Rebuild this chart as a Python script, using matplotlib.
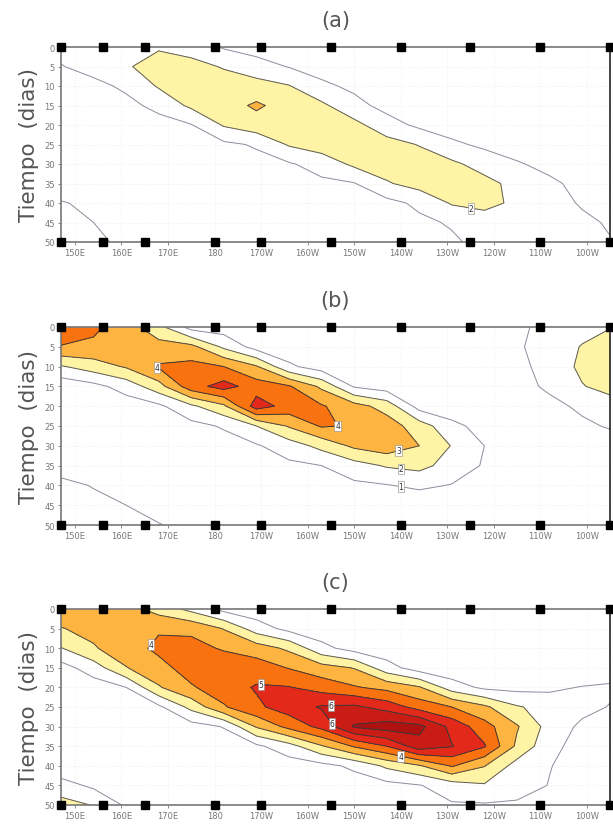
import numpy as np
import matplotlib
matplotlib.use("Agg")
import matplotlib.pyplot as plt

# ---------------- data ----------------
LON = [147, 154, 161, 168, 175, 182, 189, 196, 203, 210, 217, 224, 231, 238, 245, 252, 259, 265]
DAYS = [0, 5, 10, 15, 20, 25, 30, 35, 40, 45, 50]
BUOY_LON = [147, 156, 165, 180, 190, 205, 220, 235, 250, 265]
XTICKS = [150, 160, 170, 180, 190, 200, 210, 220, 230, 240, 250, 260]
XTICK_LABELS = ["150E", "160E", "170E", "180", "170W", "160W", "150W",
                "140W", "130W", "120W", "110W", "100W"]
YTICKS = [0, 5, 10, 15, 20, 25, 30, 35, 40, 45, 50]
PANEL_TITLES = ["(a)", "(b)", "(c)"]

FIELD_A = [
    [1.3, 1.5, 1.8, 1.9, 1.5, 0.9, 0.6, 0.4, 0.3, 0.2, 0.1, 0.1, 0.1, 0.1, 0.1, 0.1, 0.1, 0.1],
    [0.95, 1.4, 1.9, 2.4, 2.4, 1.9, 1.4, 0.95, 0.6, 0.4, 0.3, 0.2, 0.2, 0.2, 0.15, 0.1, 0.1, 0.1],
    [0.4, 0.7, 1.2, 2.1, 2.5, 2.6, 2.4, 2.05, 1.2, 0.8, 0.5, 0.3, 0.2, 0.2, 0.2, 0.15, 0.1, 0.1],
    [0.3, 0.4, 0.7, 1.3, 2.2, 2.6, 3.15, 2.6, 2.2, 1.3, 0.7, 0.4, 0.3, 0.2, 0.2, 0.2, 0.15, 0.1],
    [0.2, 0.3, 0.4, 0.6, 0.95, 2.1, 2.6, 2.6, 2.6, 2.3, 1.4, 0.8, 0.5, 0.3, 0.2, 0.2, 0.2, 0.2],
    [0.2, 0.2, 0.3, 0.4, 0.6, 0.8, 1.1, 2.1, 2.5, 2.6, 2.4, 1.95, 1.2, 0.8, 0.5, 0.3, 0.2, 0.2],
    [0.2, 0.2, 0.2, 0.3, 0.4, 0.5, 0.7, 0.9, 1.4, 2.2, 2.5, 2.5, 2.2, 1.6, 1.1, 0.7, 0.4, 0.3],
    [0.2, 0.2, 0.2, 0.2, 0.3, 0.4, 0.5, 0.6, 0.8, 0.95, 1.9, 2.4, 2.5, 2.3, 1.7, 1.2, 0.7, 0.5],
    [1.1, 0.7, 0.4, 0.3, 0.2, 0.2, 0.3, 0.4, 0.5, 0.6, 0.7, 1.2, 2.1, 2.3, 1.8, 1.4, 0.9, 0.6],
    [1.5, 1.0, 0.6, 0.4, 0.3, 0.2, 0.2, 0.3, 0.4, 0.5, 0.6, 0.8, 1.1, 1.5, 1.6, 1.5, 1.2, 0.9],
    [1.8, 1.2, 0.8, 0.5, 0.3, 0.2, 0.2, 0.2, 0.3, 0.4, 0.5, 0.7, 0.85, 1.3, 1.4, 1.3, 1.2, 1.05],
]

FIELD_B = [
    [4.6, 4.2, 3.5, 2.3, 0.6, 0.5, 0.3, 0.2, 0.1, 0.1, 0.1, 0.1, 0.2, 0.4, 0.8, 1.3, 1.7, 1.95],
    [3.95, 3.8, 3.6, 3.4, 3.3, 1.8, 0.6, 0.3, 0.2, 0.1, 0.1, 0.1, 0.2, 0.4, 0.85, 1.5, 2.05, 2.5],
    [1.9, 2.5, 3.1, 4.1, 4.3, 4.0, 3.1, 1.2, 0.5, 0.3, 0.2, 0.1, 0.2, 0.4, 0.7, 1.4, 2.2, 2.6],
    [0.3, 0.7, 1.4, 2.6, 4.6, 5.4, 4.5, 4.1, 2.8, 0.9, 0.5, 0.3, 0.2, 0.3, 0.6, 1.2, 1.95, 2.3],
    [0.2, 0.3, 0.5, 0.8, 1.8, 2.8, 5.5, 4.6, 4.1, 3.4, 2.6, 0.6, 0.3, 0.2, 0.3, 0.7, 1.2, 1.6],
    [0.2, 0.2, 0.3, 0.4, 0.7, 1.1, 2.0, 3.1, 4.1, 3.9, 3.5, 2.5, 1.3, 0.6, 0.3, 0.5, 0.8, 1.1],
    [0.2, 0.2, 0.2, 0.3, 0.4, 0.6, 0.9, 1.5, 2.3, 3.2, 3.6, 3.0, 1.95, 1.0, 0.5, 0.3, 0.4, 0.5],
    [0.2, 0.2, 0.2, 0.2, 0.3, 0.4, 0.6, 0.8, 1.0, 1.6, 2.1, 2.3, 1.6, 0.9, 0.4, 0.2, 0.2, 0.2],
    [1.5, 0.9, 0.5, 0.3, 0.2, 0.2, 0.3, 0.4, 0.6, 0.8, 0.95, 1.2, 0.95, 0.6, 0.3, 0.2, 0.2, 0.2],
    [1.9, 1.5, 1.0, 0.6, 0.3, 0.2, 0.2, 0.2, 0.3, 0.3, 0.3, 0.3, 0.3, 0.3, 0.2, 0.2, 0.2, 0.2],
    [1.95, 1.7, 1.3, 1.05, 0.7, 0.3, 0.2, 0.2, 0.2, 0.2, 0.2, 0.2, 0.2, 0.2, 0.2, 0.2, 0.2, 0.2],
]

FIELD_C = [
    [3.6, 3.6, 3.4, 2.6, 1.7, 0.7, 0.4, 0.3, 0.2, 0.2, 0.2, 0.2, 0.2, 0.2, 0.2, 0.2, 0.2, 0.2],
    [2.95, 3.3, 3.6, 3.9, 3.8, 2.95, 1.5, 0.7, 0.4, 0.3, 0.2, 0.2, 0.2, 0.2, 0.2, 0.2, 0.2, 0.2],
    [1.95, 2.9, 3.6, 4.2, 4.3, 3.9, 3.5, 2.8, 1.3, 0.6, 0.4, 0.3, 0.2, 0.2, 0.2, 0.2, 0.2, 0.2],
    [0.6, 1.5, 2.95, 3.7, 4.4, 4.6, 4.5, 3.95, 3.4, 2.95, 1.4, 0.5, 0.3, 0.2, 0.2, 0.2, 0.2, 0.2],
    [0.3, 0.5, 1.0, 2.9, 3.9, 4.5, 5.1, 5.05, 4.6, 4.1, 3.7, 3.1, 1.5, 0.8, 0.7, 0.8, 1.05, 1.2],
    [0.2, 0.3, 0.5, 0.8, 2.3, 3.9, 4.8, 5.5, 6.1, 6.2, 5.6, 4.6, 4.0, 3.2, 2.1, 1.6, 1.3, 0.95],
    [0.2, 0.2, 0.3, 0.4, 0.6, 1.05, 3.1, 4.3, 5.3, 7.1, 7.5, 7.3, 5.7, 4.4, 3.1, 1.6, 0.8, 0.5],
    [0.2, 0.2, 0.2, 0.2, 0.3, 0.5, 0.8, 1.6, 2.9, 4.1, 5.0, 6.6, 6.05, 5.1, 2.8, 1.3, 0.6, 0.4],
    [0.3, 0.3, 0.2, 0.2, 0.2, 0.2, 0.3, 0.5, 0.7, 1.2, 2.2, 2.9, 4.1, 3.05, 1.6, 1.05, 0.5, 0.3],
    [1.4, 0.8, 0.4, 0.3, 0.2, 0.2, 0.2, 0.3, 0.4, 0.5, 0.7, 0.95, 1.5, 1.9, 1.6, 0.95, 0.5, 0.3],
    [2.4, 1.95, 0.85, 0.5, 0.3, 0.2, 0.2, 0.2, 0.3, 0.4, 0.5, 0.7, 0.9, 0.9, 0.8, 0.6, 0.4, 0.3],
]

FILL_LEVELS = [2, 3, 4, 5, 6, 7, 20]
FILL_COLORS = ["#fff3a6", "#fdb440", "#f8720f", "#e32a1a", "#c81c14", "#ad1210"]
LINE_LEVELS = [1, 2, 3, 4, 5, 6, 7]
LINE_COLORS = ["#8c8c9c", "#5a5a5a", "#4a4a4a", "#3a3a3a", "#3a3a3a", "#3a3a3a", "#3a3a3a"]

LABELS = [
    [(235, 42.5)],
    [(167.5, 10.5), (207.0, 25.0), (220.0, 33.2), (220.0, 36.8), (220.0, 40.6)],
    [(165.0, 7.7), (190.0, 19.0), (205.0, 24.5), (205.0, 29.5), (220.0, 37.8)],
]

FIELDS = [FIELD_A, FIELD_B, FIELD_C]

# ---------------- figure ----------------
fig = plt.figure(figsize=(6.13, 8.28), dpi=100)
W, H = 613.0, 828.0
boxes = [(48, 243), (328, 526), (610, 806)]
left_px, right_px = 61, 610

lon = np.array(LON, dtype=float)
days = np.array(DAYS, dtype=float)

for i, (top, bot) in enumerate(boxes):
    ax = fig.add_axes([left_px / W, 1 - bot / H, (right_px - left_px) / W, (bot - top) / H])
    ax.set_axisbelow(True)
    Z = np.array(FIELDS[i], dtype=float)
    ax.contourf(lon, days, Z, levels=FILL_LEVELS, colors=FILL_COLORS, zorder=1)
    cs = ax.contour(lon, days, Z, levels=LINE_LEVELS, colors=LINE_COLORS,
                    linewidths=0.7, zorder=2)
    lbls = ax.clabel(cs, manual=LABELS[i], inline=False, fontsize=5.5, fmt="%d",
                     colors="#333333")
    for t in lbls:
        t.set_bbox(dict(boxstyle="square,pad=0.12", fc="white", ec="#888888", lw=0.4))
        t.set_rotation(0)

    ax.set_xlim(147, 265)
    ax.set_ylim(50, 0)
    ax.set_xticks(XTICKS)
    ax.set_xticklabels(XTICK_LABELS)
    ax.set_yticks(YTICKS)
    ax.set_yticklabels([str(v) for v in YTICKS])
    ax.tick_params(axis="both", labelsize=6, colors="#777777", length=2.5,
                   width=0.6, direction="out", pad=2)
    ax.grid(True, color="#ececec", linestyle=":", linewidth=0.6)
    for s in ax.spines.values():
        s.set_color("#777777")
        s.set_linewidth(1.2)
        s.set_zorder(4)
    ax.spines["right"].set_color("#222222")

    # buoy markers on top and bottom edges
    ax.plot(BUOY_LON, [0] * len(BUOY_LON), "s", color="black", ms=6,
            clip_on=False, zorder=5)
    ax.plot(BUOY_LON, [50] * len(BUOY_LON), "s", color="black", ms=6,
            clip_on=False, zorder=5)

    ax.set_ylabel("Tiempo  (dias)", fontsize=15.5, color="#555555", labelpad=4)
    ax.set_title(PANEL_TITLES[i], fontsize=15, color="#555555", pad=15)

fig.savefig("out.png", dpi=100)
